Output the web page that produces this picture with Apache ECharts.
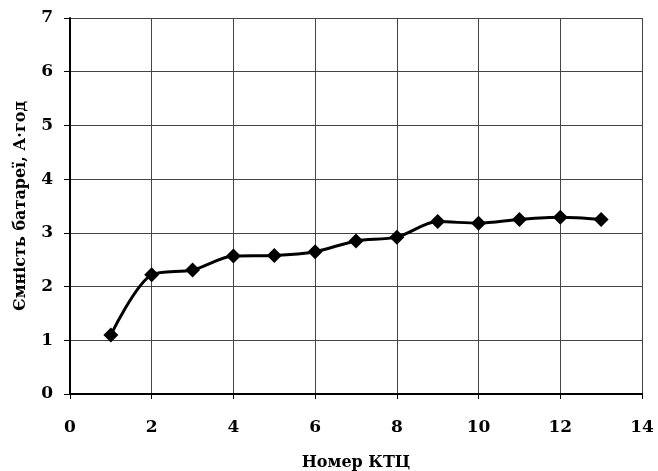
<!DOCTYPE html>
<html><head><meta charset="utf-8">
<script src="https://cdn.jsdelivr.net/npm/echarts@6/dist/echarts.min.js"></script>
<style>html,body{margin:0;padding:0;background:#fff}#c{width:658px;height:471px}</style>
</head><body><div id="c"></div>
<script>
const xValues = [1, 2, 3, 4, 5, 6, 7, 8, 9, 10, 11, 12, 13];
const capacity = [1.10, 2.22, 2.31, 2.57, 2.58, 2.65, 2.85, 2.92, 3.21, 3.18, 3.25, 3.29, 3.25];
const xTitle = 'Номер КТЦ';
const yTitle = 'Ємність батареї, А·год';

const font = 'DejaVu Serif';
const chart = echarts.init(document.getElementById('c'));
chart.setOption({
  animation: false,
  backgroundColor: '#fff',
  grid: {left: 70, right: 16, top: 18, bottom: 77, outerBoundsMode: 'none', containLabel: false},
  xAxis: {
    type: 'value', min: 0, max: 14, interval: 2,
    name: xTitle, nameLocation: 'middle', nameGap: 61,
    nameTextStyle: {fontFamily: font, fontWeight: 'bold', fontSize: 16, color: '#000'},
    axisLine: {show: true, lineStyle: {color: '#000', width: 2}},
    axisTick: {show: true, length: 5, lineStyle: {color: '#000'}},
    axisLabel: {fontFamily: font, fontWeight: 'bold', fontSize: 17, color: '#000', margin: 25},
    splitLine: {show: true, lineStyle: {color: '#444', width: 1}}
  },
  yAxis: {
    type: 'value', min: 0, max: 7, interval: 1,
    name: yTitle, nameLocation: 'middle', nameGap: 41,
    nameTextStyle: {fontFamily: font, fontWeight: 'bold', fontSize: 16, color: '#000'},
    axisLine: {show: true, lineStyle: {color: '#000', width: 2}},
    axisTick: {show: true, length: 6, lineStyle: {color: '#000'}},
    axisLabel: {fontFamily: font, fontWeight: 'bold', fontSize: 17, color: '#000', margin: 17},
    splitLine: {show: true, lineStyle: {color: '#444', width: 1}}
  },
  series: [{
    type: 'line',
    data: xValues.map((x, i) => [x, capacity[i]]),
    smooth: 0.3,
    symbol: 'diamond', symbolSize: 15,
    itemStyle: {color: '#000'},
    lineStyle: {color: '#000', width: 3}
  }]
});
</script></body></html>
